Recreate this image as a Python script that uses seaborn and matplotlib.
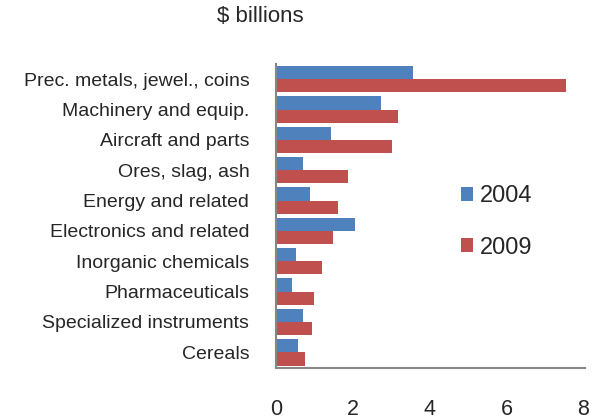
import matplotlib
matplotlib.use("Agg")
import matplotlib.pyplot as plt
import seaborn as sns
import pandas as pd
from matplotlib.patches import Patch

categories = ["Prec. metals, jewel., coins", "Machinery and equip.", "Aircraft and parts",
              "Ores, slag, ash", "Energy and related", "Electronics and related",
              "Inorganic chemicals", "Pharmaceuticals", "Specialized instruments", "Cereals"]
values_2004 = [3.58, 2.74, 1.44, 0.70, 0.88, 2.07, 0.53, 0.42, 0.70, 0.59]
values_2009 = [7.54, 3.18, 3.03, 1.89, 1.61, 1.50, 1.21, 0.99, 0.94, 0.76]
years = ["2004", "2009"]
xticks = [0, 2, 4, 6, 8]

df = pd.DataFrame({
    "category": categories * 2,
    "value": values_2004 + values_2009,
    "year": [years[0]] * len(categories) + [years[1]] * len(categories),
})

sns.set_theme(style="white")
plt.rcParams["font.family"] = ["Liberation Sans", "DejaVu Sans"]

colors = {"2004": "#4F81BD", "2009": "#C0504D"}

fig = plt.figure(figsize=(5.93, 4.19), dpi=100)
ax = fig.add_axes([275.7 / 593, 1 - 367.5 / 419, (585 - 275.7) / 593, (367.5 - 64) / 419])

sns.barplot(data=df, y="category", x="value", hue="year", order=categories,
            hue_order=years, palette=colors, orient="h", width=0.87,
            saturation=1, ax=ax, legend=False, linewidth=0)

ax.set_xlim(0, 8.04)
ax.set_xticks(xticks)
ax.set_xticklabels([str(t) for t in xticks], fontsize=15.5)
ax.set_xlabel("")
ax.set_ylabel("")
ax.tick_params(axis="x", length=0, pad=23)
ax.tick_params(axis="y", length=0, pad=19, labelsize=14)
for s in ["top", "right"]:
    ax.spines[s].set_visible(False)
for s in ["left", "bottom"]:
    ax.spines[s].set_color("#868686")
    ax.spines[s].set_linewidth(1.5)

handles = [Patch(facecolor=colors[y], edgecolor="none", label=y) for y in years]
fig.legend(handles=handles, loc="center left", bbox_to_anchor=(440 / 593, 1 - 222 / 419),
           frameon=False, fontsize=17, handlelength=0.5, handleheight=0.5,
           handletextpad=0.3, labelspacing=1.23)

fig.text(260 / 593, 1 - 17 / 419, "$ billions", ha="center", va="center", fontsize=16)

fig.savefig("out.png", dpi=100)
